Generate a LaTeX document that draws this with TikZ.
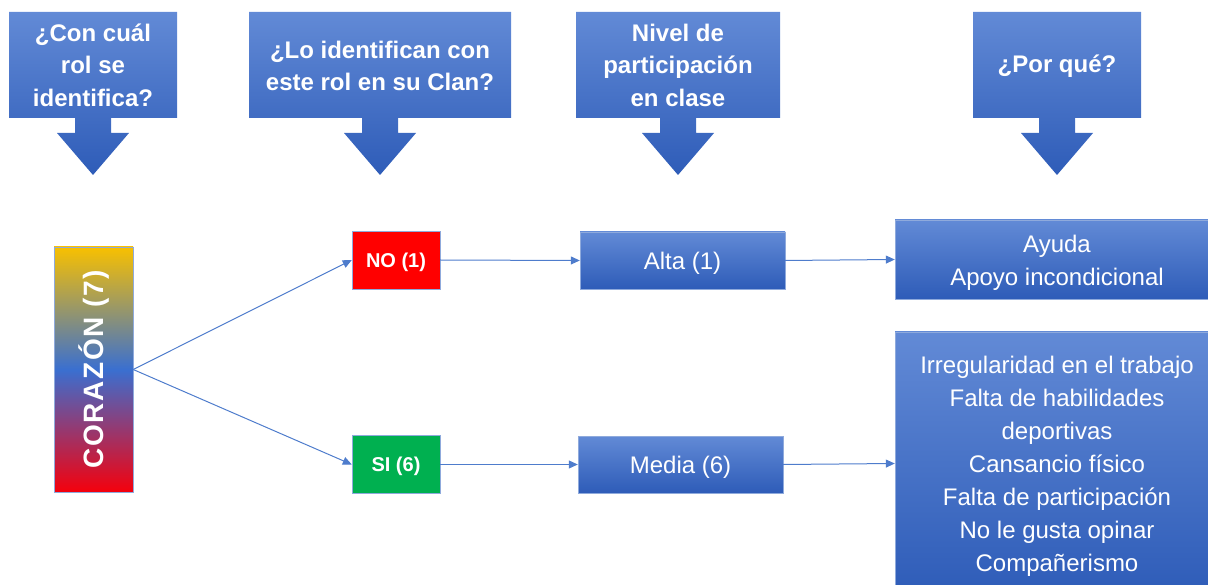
\documentclass[tikz,border=0pt]{standalone}
\usepackage{fontspec}
\setmainfont{Liberation Sans}
\usetikzlibrary{arrows.meta}
\definecolor{boxtop}{RGB}{98,138,214}
\definecolor{boxbot}{RGB}{46,92,184}
\definecolor{boxline}{RGB}{143,170,220}
\definecolor{linkblue}{RGB}{78,124,204}
\definecolor{noRed}{RGB}{255,0,0}
\definecolor{siGreen}{RGB}{0,176,80}
\definecolor{hotYellow}{RGB}{248,192,0}
\definecolor{hotBlue}{RGB}{58,111,208}
\definecolor{hotRed}{RGB}{245,0,12}
\pgfdeclareverticalshading{corazon}{100bp}{color(0bp)=(hotRed); color(25bp)=(hotRed); color(50bp)=(hotBlue); color(75bp)=(hotYellow); color(100bp)=(hotYellow)}
\newcommand{\lift}[1]{\rule{0pt}{#1}}
\begin{document}
\begin{tikzpicture}[x=1pt,y=-1pt,
  head/.style={text=white,align=center,inner sep=0pt,font=\bfseries\fontsize{24}{32.5}\selectfont},
  bluebox/.style={draw=boxline,top color=boxtop,bottom color=boxbot,text=white,inner sep=0pt,align=center,font=\fontsize{24}{33}\selectfont},
  answer/.style={draw=boxline,text=white,inner sep=0pt,minimum width=88pt,minimum height=58pt,font=\bfseries\fontsize{20}{24}\selectfont},
  link/.style={draw=linkblue,line width=1pt,-{Triangle[length=9pt,width=8pt]}}]
\useasboundingbox (0,0) rectangle (1208,585);

\foreach \cx/\hw in {93/84,380/131,678/102,1057/84}
  \shade[top color=boxtop,bottom color=boxbot] (\cx-\hw,12) -- (\cx+\hw,12) -- (\cx+\hw,118) -- (\cx+18,118) -- (\cx+18,133) -- (\cx+36,133) -- (\cx,175) -- (\cx-36,133) -- (\cx-18,133) -- (\cx-18,118) -- (\cx-\hw,118) -- cycle;
\node[head] (q1) at (93,65) {¿Con cuál\\rol se\\identifica?};
\node[head] (q2) at (380,66) {¿Lo identifican con\\este rol en su Clan?};
\node[head] (q3) at (678,65) {Nivel de\\participación\\en clase};
\node[head] (q4) at (1057,66) {¿Por qué?};

\node[draw=boxline,shading=corazon,minimum width=79pt,minimum height=245pt,inner sep=0pt,text=white,font=\bfseries\fontsize{28}{30}\selectfont\addfontfeature{LetterSpace=6}] (rol) at (93.5,369.5) {\rotatebox{90}{CORAZÓN (7)}};

\node[answer,fill=noRed] (no) at (396,260) {\lift{18.7pt}NO (1)};
\node[answer,fill=siGreen] (si) at (396,464.5) {\lift{18.7pt}SI (6)};

\node[bluebox,minimum width=205pt,minimum height=57pt] (alta) at (682.5,260.5) {\lift{23.6pt}Alta (1)};
\node[bluebox,minimum width=205pt,minimum height=57pt] (media) at (680.5,464.5) {\lift{23.6pt}Media (6)};

\node[bluebox,minimum width=324pt,minimum height=79pt] (why1) at (1057,259.5) {\lift{23.6pt}Ayuda\\Apoyo incondicional};
\node[bluebox,minimum width=324pt,minimum height=263pt] (why2) at (1057,463.5) {\lift{23.6pt}Irregularidad en el trabajo\\Falta de habilidades\\deportivas\\Cansancio físico\\Falta de participación\\No le gusta opinar\\Compañerismo};

\draw[link] (rol.east) -- (no.west);
\draw[link] (rol.east) -- (si.west);
\draw[link] (no.east) -- (alta.west);
\draw[link] (si.east) -- (media.west);
\draw[link] (alta.east) -- (why1.west);
\draw[link] (media.east) -- (why2.west);
\end{tikzpicture}
\end{document}
